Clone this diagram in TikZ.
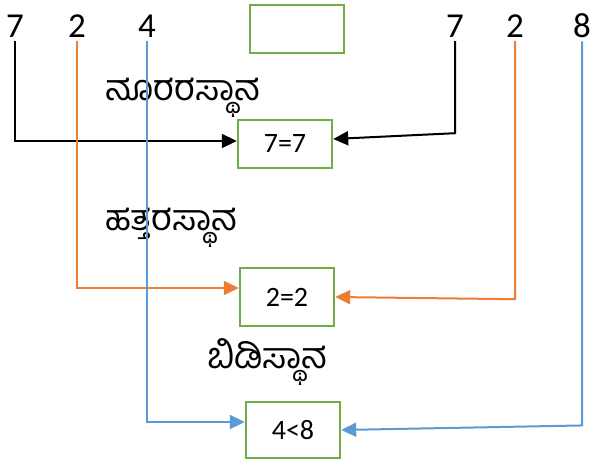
\documentclass[tikz,border=0pt]{standalone}
\usepackage{fontspec}
\setmainfont{Carlito}
\newfontfamily\kanfont[Script=Kannada]{Hind Mysuru}
\usetikzlibrary{arrows.meta}
\definecolor{boxgreen}{HTML}{70AD47}
\definecolor{lineorange}{HTML}{ED7D31}
\definecolor{lineblue}{HTML}{5B9BD5}

\tikzset{
  digit/.style={font=\fontsize{35}{40}\selectfont, inner sep=0pt, anchor=base},
  placebox/.style={draw=boxgreen, line width=2.4pt, minimum width=94pt, minimum height=48pt, font=\fontsize{28}{32}\selectfont},
  placename/.style={font=\kanfont\fontsize{36}{40}\selectfont, anchor=west, inner sep=0pt},
  link/.style={line width=2pt, -{Triangle[length=15pt,width=14pt]}, shorten <=4pt},
}

\begin{document}
\begin{tikzpicture}[x=1pt,y=-1pt]
\useasboundingbox (0,0) rectangle (590,461);

% digits of the two numbers
\node[digit] (ha) at (15,37) {7};
\node[digit] (ta) at (77,37) {2};
\node[digit] (oa) at (147,37) {4};
\node[digit] (hb) at (455,37) {7};
\node[digit] (tb) at (515,37) {2};
\node[digit] (ob) at (582,37) {8};

% comparison boxes
\node[placebox] (top) at (297,29) {};
\node[placebox] (eqh) at (285,144) {7=7};
\node[placebox, minimum height=58pt] (eqt) at (287,297) {2=2};
\node[placebox, minimum height=56pt] (eqo) at (293,430) {4<8};

% place names
\node[placename] (hname) at (105,98) {ನೂರರಸ್ಥಾನ};
\node[placename] (tname) at (105,228) {ಹತ್ತರಸ್ಥಾನ};
\node[placename] (oname) at (207,362) {ಬಿಡಿಸ್ಥಾನ};

% hundreds
\draw[link] (ha.south) |- ([yshift=3pt]eqh.west);
\draw[link] (hb.south) -- ++(0,96) -- ([yshift=5pt]eqh.east);
% tens
\draw[link, lineorange] (ta.south) |- ([yshift=9pt]eqt.west);
\draw[link, lineorange] (tb.south) -- ++(0,262) -- (eqt.east);
% ones
\draw[link, lineblue] (oa.south) |- ([yshift=8pt]eqo.west);
\draw[link, lineblue] (ob.south) -- ++(0,388) -- (eqo.east);

\end{tikzpicture}
\end{document}
